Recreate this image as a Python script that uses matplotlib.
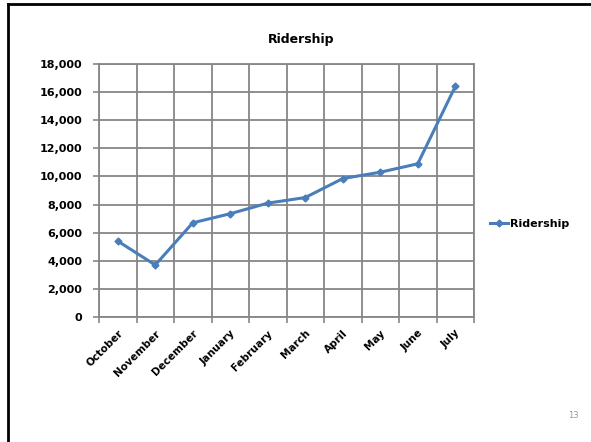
import matplotlib.pyplot as plt
import matplotlib.lines as lines
from matplotlib.ticker import FuncFormatter, MultipleLocator
import numpy as np

months = ['October', 'November', 'December', 'January', 'February',
          'March', 'April', 'May', 'June', 'July']
ridership = [5400, 3700, 6700, 7350, 8100, 8500, 9850, 10300, 10900, 16400]

W, H = 591, 442
fig = plt.figure(figsize=(W / 100, H / 100), dpi=100)
fig.patch.set_facecolor('white')

# slide border (top and left edge only)
fig.add_artist(lines.Line2D([8 / W, 1], [1 - 4 / H, 1 - 4 / H], color='black', lw=2))
fig.add_artist(lines.Line2D([8 / W, 8 / W], [0, 1 - 4 / H], color='black', lw=2))

# plot area
ax = fig.add_axes([99 / W, 1 - 317 / H, (474 - 99) / W, (317 - 64) / H])
x = np.arange(len(months))
ax.plot(x, ridership, color='#4a7ebb', lw=2.2, marker='D', markersize=3.5,
        label='Ridership')

ax.set_xlim(-0.5, len(months) - 0.5)
ax.set_ylim(0, 18000)
ax.yaxis.set_major_locator(MultipleLocator(2000))
ax.yaxis.set_major_formatter(FuncFormatter(lambda v, p: f'{int(v):,}'))

ax.set_xticks(x)
ax.set_xticklabels(months, rotation=45, ha='right', rotation_mode='anchor',
                   fontsize=7.5, fontweight='bold', family='DejaVu Sans Condensed')
ax.tick_params(axis='x', length=0, pad=8)
ax.set_xticks(np.arange(len(months) + 1) - 0.5, minor=True)
ax.tick_params(axis='x', which='minor', length=4, color='#868686', width=1.2)
ax.tick_params(axis='y', length=4, color='#868686', width=1.2, pad=8)
for lab in ax.get_yticklabels():
    lab.set_fontsize(8)
    lab.set_fontweight('bold')
    lab.set_family('DejaVu Sans Condensed')

ax.grid(True, which='major', axis='y', color='#868686', lw=1.3)
ax.grid(True, which='minor', axis='x', color='#868686', lw=1.3)
ax.set_axisbelow(True)
for s in ax.spines.values():
    s.set_color('#868686')
    s.set_linewidth(1.3)

fig.text(301 / W, 1 - 40 / H, 'Ridership', ha='center', va='center',
         fontsize=9, fontweight='bold', family='DejaVu Sans Condensed')

ax.legend(loc='center left', bbox_to_anchor=(480 / W, 1 - 224 / H),
          bbox_transform=fig.transFigure, frameon=False, handlelength=1.6,
          handletextpad=0.2, prop=dict(size=8, weight='bold', family='DejaVu Sans Condensed'))

fig.text(573 / W, 1 - 416 / H, '13', ha='center', va='center',
         fontsize=6, color='#999999')

plt.savefig('out.png', dpi=100)
